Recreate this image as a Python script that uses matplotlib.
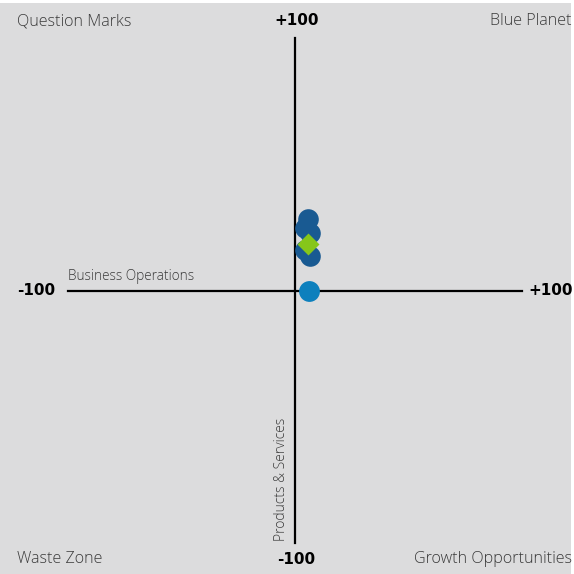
import matplotlib
matplotlib.use("Agg")
import matplotlib.pyplot as plt

### quadrant names, axis titles and the plotted items
corner_labels = ["Question Marks", "Blue Planet", "Waste Zone", "Growth Opportunities"]
x_title = "Business Operations"
y_title = "Products & Services"
axis_ends = ["-100", "+100"]

item_x = [5.5, 4.4, 6.6, 4.4, 6.6]
item_y = [28.3, 24.8, 22.8, 16.0, 13.7]
avg_x = [5.7]
avg_y = [18.4]
self_x = [6.1]
self_y = [-0.2]

bg = "#dcdcdd"
plt.rcParams['font.family'] = ['Open Sans', 'DejaVu Sans']

fig = plt.figure(figsize=(5.74, 5.74), dpi=100, facecolor="white")
ax = fig.add_axes([0, 0, 0.995, 0.995])
ax.set_facecolor(bg)
ax.set_xlim(-130.0, 121.6)
ax.set_ylim(-112.2, 113.9)
for s in ax.spines.values():
    s.set_visible(False)
ax.set_xticks([])
ax.set_yticks([])

# cross
ax.plot([-100, 100], [0, 0], color="black", lw=1.6, zorder=1)
ax.plot([0, 0], [-100, 100], color="black", lw=1.6, zorder=1)

# end labels
bold = dict(fontsize=11, fontweight="bold", family="DejaVu Sans")
ax.text(-105.5, 0, axis_ends[0], ha="right", va="center", **bold)
ax.text(102.8, 0, axis_ends[1], ha="left", va="center", **bold)
ax.text(0.5, 106.8, axis_ends[1], ha="center", va="center", **bold)
ax.text(0.5, -106.6, axis_ends[0], ha="center", va="center", **bold)

light = dict(color="#3a3a3a", fontweight="light")
ax.text(-100, 2.5, x_title, ha="left", va="bottom", fontsize=9.8, **light)
ax.text(-6.0, -99.3, y_title, ha="center", va="bottom", rotation=90, fontsize=10, **light)

# corners
for lab, xx, yy, ha in [(corner_labels[0], 0.03, 0.963, "left"),
                        (corner_labels[1], 0.996, 0.963, "right"),
                        (corner_labels[2], 0.03, 0.026, "left"),
                        (corner_labels[3], 0.996, 0.026, "right")]:
    ax.text(xx, yy, lab, transform=fig.transFigure, ha=ha, va="center", fontsize=11.6, **light)

# points
ax.scatter(item_x, item_y, s=220, color="#195a92", zorder=3, linewidths=0)
ax.scatter(self_x, self_y, s=225, color="#0d80bd", zorder=3, linewidths=0)
ax.scatter(avg_x, avg_y, s=125, marker="D", color="#86c61a", zorder=4, linewidths=0)

fig.savefig("out.png", dpi=100, facecolor="white")
